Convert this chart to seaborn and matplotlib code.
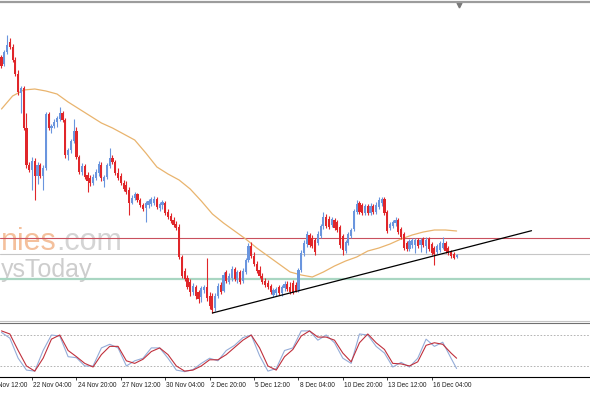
"""
4h candlestick chart with a moving average, support/resistance levels,
an ascending trend line and a stochastic oscillator panel underneath.
"""

import numpy as np
import pandas as pd
import matplotlib
matplotlib.use("Agg")
import matplotlib.pyplot as plt
import matplotlib.transforms as mtransforms
import seaborn as sns

# ---- candle data (one entry per 4h bar) ----
opens = [343, 336, 348, 358, 353, 340, 326, 307, 312, 272, 235, 230, 239, 224, 235, 224, 232, 286, 272, 274,
         278, 281, 287, 280, 245, 250, 259, 269, 243, 228, 234, 225, 222, 217, 222, 227, 235, 219, 223, 234,
         242, 238, 227, 224, 217, 215, 210, 197, 202, 206, 200, 195, 192, 195, 196, 197, 201, 192, 195, 197,
         188, 184, 180, 176, 173, 143, 129, 122, 118, 108, 113, 108, 103, 110, 113, 104, 104, 92, 104, 115,
         109, 128, 118, 122, 131, 120, 128, 119, 128, 140, 154, 144, 136, 130, 124, 119, 117, 114, 105, 107,
         113, 107, 112, 116, 113, 117, 115, 110, 130, 147, 156, 165, 162, 160, 157, 164, 174, 183, 181, 175,
         180, 178, 173, 164, 149, 157, 164, 171, 188, 197, 195, 187, 194, 187, 194, 188, 193, 197, 201, 188,
         172, 174, 177, 180, 171, 166, 157, 151, 155, 155, 160, 155, 161, 154, 161, 156, 152, 148, 150, 152,
         157, 152, 148, 146, 143]
highs = [345, 350, 365, 362, 356, 343, 330, 314, 314, 287, 238, 243, 242, 238, 237, 235, 288, 288, 276, 281,
         284, 293, 289, 282, 252, 261, 281, 273, 245, 237, 236, 228, 225, 226, 231, 239, 238, 225, 237, 252,
         245, 240, 232, 227, 220, 219, 213, 205, 208, 207, 202, 197, 199, 201, 203, 204, 203, 198, 200, 199,
         191, 187, 183, 179, 176, 145, 132, 125, 121, 117, 115, 110, 114, 115, 142, 108, 107, 107, 117, 118,
         128, 130, 127, 134, 133, 130, 130, 132, 142, 157, 158, 148, 139, 134, 127, 122, 120, 116, 112, 113,
         115, 115, 119, 119, 118, 120, 118, 132, 150, 160, 169, 167, 165, 162, 169, 176, 188, 186, 184, 183,
         182, 180, 175, 166, 160, 168, 172, 191, 200, 199, 197, 196, 196, 197, 196, 198, 203, 203, 203, 190,
         178, 180, 183, 182, 173, 168, 159, 161, 162, 162, 162, 162, 163, 163, 163, 158, 154, 156, 159, 163,
         159, 154, 150, 148, 146]
lows = [332, 334, 346, 351, 338, 324, 305, 287, 270, 232, 228, 210, 200, 216, 222, 210, 230, 270, 267, 272,
        273, 279, 278, 242, 240, 247, 257, 241, 226, 225, 221, 208, 214, 215, 220, 224, 219, 213, 221, 232,
        236, 225, 220, 215, 209, 206, 185, 196, 200, 198, 193, 189, 178, 192, 194, 195, 191, 189, 191, 185,
        181, 177, 173, 170, 141, 122, 119, 111, 104, 105, 101, 97, 98, 107, 99, 91, 87, 89, 102, 106,
        108, 117, 116, 119, 119, 117, 116, 117, 126, 138, 142, 134, 127, 122, 116, 113, 111, 106, 103, 104,
        105, 104, 109, 109, 106, 106, 108, 108, 128, 144, 153, 153, 152, 145, 155, 162, 171, 172, 171, 173,
        170, 168, 152, 145, 147, 155, 162, 169, 186, 186, 185, 185, 185, 185, 186, 186, 191, 194, 185, 167,
        170, 172, 174, 166, 161, 150, 149, 149, 152, 147, 152, 148, 153, 147, 149, 145, 135, 146, 148, 151,
        147, 145, 142, 141, 142]
closes = [334, 348, 355, 353, 340, 326, 308, 312, 272, 235, 230, 239, 224, 235, 224, 232, 286, 272, 274, 278,
          282, 287, 280, 245, 250, 259, 269, 243, 228, 234, 223, 219, 217, 223, 228, 236, 222, 223, 235, 242,
          238, 227, 222, 217, 211, 208, 197, 202, 206, 200, 195, 191, 197, 199, 201, 201, 193, 196, 198, 187,
          183, 179, 175, 172, 143, 124, 121, 113, 108, 114, 104, 101, 112, 113, 102, 94, 90, 104, 114, 108,
          125, 119, 124, 131, 121, 128, 118, 129, 140, 154, 144, 136, 129, 124, 118, 115, 113, 108, 110, 111,
          107, 113, 116, 111, 108, 107, 109, 130, 147, 157, 166, 155, 154, 148, 166, 174, 183, 174, 173, 181,
          172, 170, 155, 150, 158, 166, 170, 189, 196, 188, 187, 194, 187, 194, 188, 195, 200, 201, 187, 169,
          176, 178, 180, 168, 163, 152, 151, 159, 160, 160, 154, 160, 155, 160, 151, 147, 146, 154, 157, 157,
          149, 147, 144, 142, 145]

# moving average, read every 4 bars
ma_bars = list(range(0, 165, 4))
ma_values = [291, 304, 310, 311, 309, 306, 298, 291, 284, 277, 272, 266, 260, 247, 233, 226, 220, 211, 199, 186,
             177, 169, 161, 152, 144, 136, 128, 125, 123, 128, 134, 139, 143, 149, 152, 156, 161, 165, 168, 170,
             170, 169]

# stochastic oscillator, read every 3 bars
stoch_bars = list(range(0, 163, 3)) + [164]
stoch_main = [85, 74, 35, 12, 10, 50, 80, 78, 38, 36, 20, 20, 55, 62, 55, 20, 30, 35, 55, 55,
              35, 12, 9, 13, 25, 35, 30, 50, 60, 75, 80, 40, 10, 15, 50, 55, 88, 88, 70, 80,
              65, 35, 25, 82, 80, 58, 45, 18, 27, 18, 35, 72, 58, 66, 35, 15]
stoch_signal = [88, 82, 50, 20, 10, 35, 72, 80, 50, 38, 25, 18, 42, 58, 58, 30, 25, 33, 48, 55,
                42, 20, 10, 12, 20, 32, 32, 42, 56, 70, 80, 55, 20, 12, 38, 52, 78, 88, 76, 76,
                70, 45, 28, 65, 82, 65, 52, 25, 24, 20, 28, 60, 65, 62, 45, 35]
stoch_levels = [80, 20]

# time axis
tick_bars = [11, 27, 43, 59, 75, 91, 107, 123, 139, 155]
tick_labels = ["22 Nov 04:00", "24 Nov 20:00", "27 Nov 12:00", "30 Nov 04:00", "2 Dec 20:00",
               "5 Dec 12:00", "8 Dec 04:00", "10 Dec 20:00", "13 Dec 12:00", "16 Dec 04:00"]
first_label_bar = -5
first_label = "19 Nov 12:00"

# drawn objects
level_red = 162
level_gray = 146
level_green = 121.5
trend_bars = [76, 191]
trend_prices = [87, 169.3]
shift_bar = 165

BULL = "#6a95de"
BEAR = "#e0262a"

sns.set_style("white")
plt.rcParams["font.family"] = ["Liberation Sans", "DejaVu Sans"]

fig = plt.figure(figsize=(5.9, 3.93), dpi=100)
ax = fig.add_axes([0, 72 / 393, 1, 319 / 393])
osc = fig.add_axes([0, 16 / 393, 1, 54 / 393], sharex=ax)

# watermark
ax.text(1 / 590, 1 - 250 / 393, "nies", transform=fig.transFigure, fontsize=22,
        color="#f4c09c", va="baseline", ha="left", zorder=0.5)
ax.text(56 / 590, 1 - 250 / 393, ".com", transform=fig.transFigure, fontsize=22,
        color="#d4d4d4", va="baseline", ha="left", zorder=0.5)
ax.text(1 / 590, 1 - 277 / 393, "ysToday", transform=fig.transFigure, fontsize=18,
        color="#cdcdcd", va="baseline", ha="left", zorder=0.5)

# levels
ax.axhline(level_red, color="#c9505e", lw=0.8, zorder=2)
ax.axhline(level_gray, color="#c6c6c6", lw=0.8, zorder=2)
ax.axhline(level_green, color="#a9d6c2", lw=1.6, zorder=2)

# moving average
sns.lineplot(x=ma_bars, y=ma_values, ax=ax, color="#e9b46e", lw=0.9, legend=False, zorder=2.5)

# candles
df = pd.DataFrame({"open": opens, "high": highs, "low": lows, "close": closes})
df["bar"] = np.arange(len(df))
colors = np.where(df["close"] >= df["open"], BULL, BEAR)
ax.vlines(df["bar"], df["low"], df["high"], colors=colors, lw=0.8, zorder=3)
ax.bar(df["bar"], df["close"] - df["open"], bottom=df["open"], width=0.78,
       color=colors, lw=0, zorder=4)

# trend line
ax.plot(trend_bars, trend_prices, color="black", lw=0.9, zorder=5)

ax.set_xlim(-0.54, 212.07)
ax.set_ylim(79, 398)
ax.set_xticks([])
ax.set_yticks([])
ax.set_xlabel("")
ax.set_ylabel("")
for s in ["left", "right"]:
    ax.spines[s].set_visible(False)
ax.spines["top"].set_color("#9c9c9c")
ax.spines["top"].set_linewidth(1.6)
ax.spines["bottom"].set_color("#c4c4c4")
ax.spines["bottom"].set_linewidth(0.8)

# chart shift marker
blend = mtransforms.blended_transform_factory(ax.transData, ax.transAxes)
ax.plot([shift_bar], [0.992], marker="v", ms=3.5, color="#7a7a7a", transform=blend, clip_on=False)

# stochastic panel
for lv in stoch_levels:
    osc.axhline(lv, color="#a8a8a8", lw=0.6, ls=(0, (2, 2)))
sns.lineplot(x=stoch_bars, y=stoch_main, ax=osc, color="#94acd8", lw=0.8, legend=False)
sns.lineplot(x=stoch_bars, y=stoch_signal, ax=osc, color="#c0303c", lw=0.8, legend=False)
osc.set_ylim(-1.4, 103.3)
osc.set_yticks([])
osc.set_ylabel("")
for s in ["left", "right"]:
    osc.spines[s].set_visible(False)
osc.spines["top"].set_color("#707070")
osc.spines["top"].set_linewidth(0.8)
osc.spines["bottom"].set_color("black")
osc.spines["bottom"].set_linewidth(0.8)

osc.set_xticks(tick_bars)
osc.set_xticklabels(tick_labels)
osc.tick_params(axis="x", direction="out", length=2.5, width=0.6, pad=1.2,
                labelsize=4.7, colors="#202020", bottom=True)
shift = mtransforms.ScaledTranslation(1.2 / 100, 0, fig.dpi_scale_trans)
for lab in osc.get_xticklabels():
    lab.set_ha("left")
    lab.set_transform(lab.get_transform() + shift)
osc.text(first_label_bar, -0.1, first_label,
         transform=mtransforms.blended_transform_factory(osc.transData, osc.transAxes) + shift,
         fontsize=4.7, color="#202020", ha="left", va="top", clip_on=False)
osc.set_xlabel("")
osc.set_xlim(-0.54, 212.07)

fig.savefig("out.png", dpi=100, facecolor="white")
plt.close(fig)
